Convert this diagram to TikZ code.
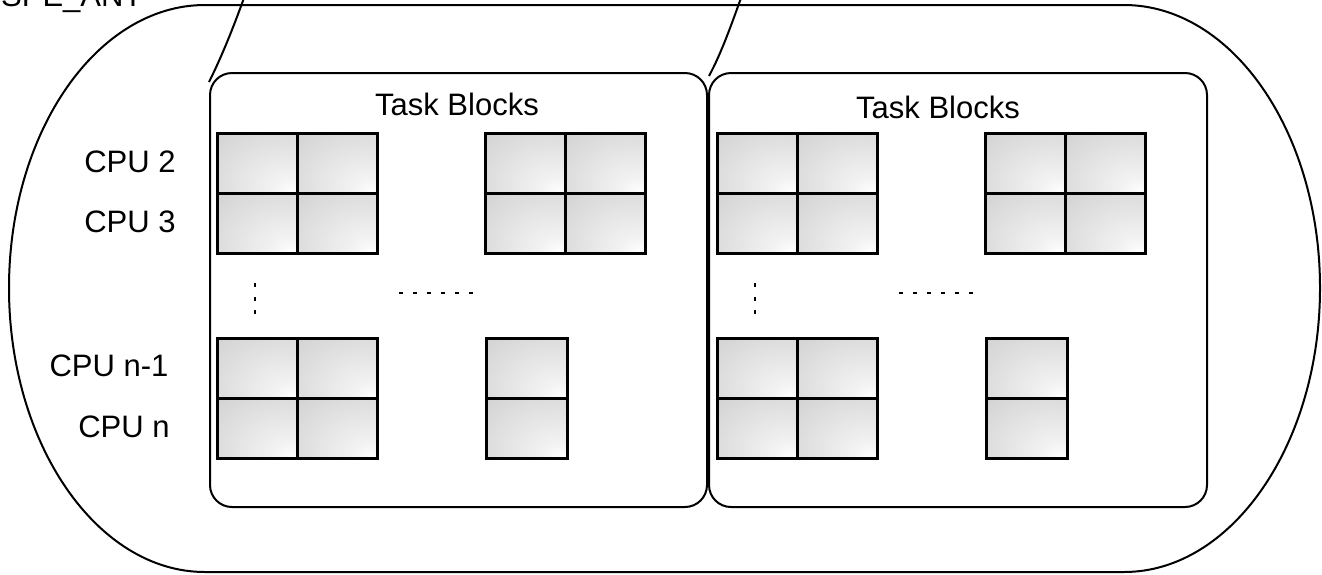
\documentclass[tikz,border=0pt]{standalone}
\usepackage{fontspec}
\setmainfont{Liberation Sans}
\usetikzlibrary{calc}
\pgfdeclareradialshading{cellsh}{\pgfpoint{22bp}{-24bp}}{color(0bp)=(white); color(10bp)=(gray!10); color(75bp)=(gray!48); color(110bp)=(gray!55)}
\begin{document}
\begin{tikzpicture}[x=1pt,y=-1pt,
  outerline/.style={draw=black, line width=2pt},
  tbox/.style={draw=black, line width=2pt, rounded corners=22pt, inner sep=0pt},
  cell/.style={draw=black, line width=2.6pt, shade, shading=cellsh, minimum width=80pt, minimum height=60pt, inner sep=0pt, anchor=north west},
  lbl/.style={font=\fontsize{31}{36}\selectfont, inner sep=0pt, anchor=base},
  conn/.style={draw=black, line width=2pt},
  dotv/.style={fill=black, minimum width=2.4pt, minimum height=4pt, inner sep=0pt},
  doth/.style={fill=black, minimum width=4pt, minimum height=2.4pt, inner sep=0pt}]
\useasboundingbox (0,0) rectangle (1322,574);

% outer stadium shape
\draw[outerline] (205,5) -- (1124,5)
  .. controls (1232,5) and (1320,132) .. (1320,288)
  .. controls (1320,444) and (1232,572) .. (1124,572)
  -- (205,572)
  .. controls (97,572) and (9,444) .. (9,288)
  .. controls (9,132) and (97,5) .. (205,5) -- cycle;

\node[lbl, anchor=base west] (spe) at (1,6) {SPE\_ANT};

% inner boxes
\node[tbox, minimum width=497pt, minimum height=434pt, anchor=north west] (box1) at (209,72) {};
\node[tbox, minimum width=498pt, minimum height=434pt, anchor=north west] (box2) at (708,72) {};

\node[lbl] (tb1) at (457,115) {Task Blocks};
\node[lbl] (tb2) at (938,118) {Task Blocks};

% CPU labels
\node[lbl] (cpu2) at (130,172) {CPU 2};
\node[lbl] (cpu3) at (130,232) {CPU 3};
\node[lbl] (cpun1) at (109,376) {CPU n-1};
\node[lbl] (cpun) at (124,437) {CPU n};

% cells
\foreach \b/\ox in {1/0, 2/500} {
  \foreach \gx/\gy/\g in {216/132/a, 484/132/b, 216/337/c} {
    \foreach \i in {0,1} {
      \foreach \j in {0,1} {
        \node[cell] (c\b\g\i\j) at ({\gx+\ox+80*\i},{\gy+60*\j}) {};
      }
    }
  }
  \foreach \j in {0,1} {
    \node[cell, minimum width=81pt] (c\b d0\j) at ({485+\ox},{337+60*\j}) {};
  }
  % dots
  \foreach \k/\yy in {1/285, 2/299, 3/312} {
    \node[dotv] (vd\b\k) at ({255+\ox},\yy) {};
  }
  \foreach \k in {0,...,5} {
    \node[doth] (hd\b\k) at ({401+\ox+13.9*\k},293) {};
  }
}

% connectors coming from above
\coordinate (s1) at (244,-2);
\coordinate (e1) at (209,82);
\coordinate (s2) at (741,-2);
\coordinate (e2) at (709,76);
\draw[conn] (s1) .. controls (236,20) and (224,52) .. (e1);
\draw[conn] (s2) .. controls (733,20) and (722,52) .. (e2);
\end{tikzpicture}
\end{document}
